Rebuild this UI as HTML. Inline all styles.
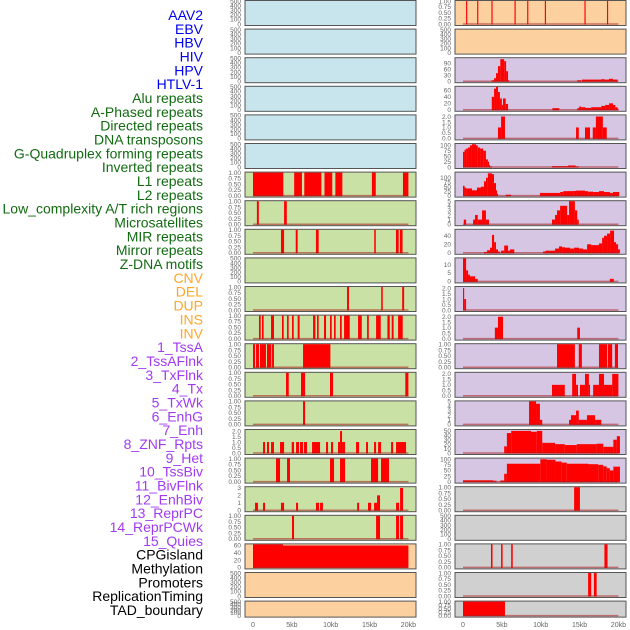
<!DOCTYPE html>
<html><head><meta charset="utf-8">
<style>
body{margin:0;background:#fff;width:630px;height:630px;overflow:hidden;font-family:"Liberation Sans",sans-serif}
svg{display:block}
</style></head>
<body>
<svg id="chart" width="630" height="630" xmlns="http://www.w3.org/2000/svg"></svg>
<script>
const labels=["AAV2","EBV","HBV","HIV","HPV","HTLV-1","Alu repeats","A-Phased repeats","Directed repeats","DNA transposons","G-Quadruplex forming repeats","Inverted repeats","L1 repeats","L2 repeats","Low_complexity A/T rich regions","Microsatellites","MIR repeats","Mirror repeats","Z-DNA motifs","CNV","DEL","DUP","INS","INV","1_TssA","2_TssAFlnk","3_TxFlnk","4_Tx","5_TxWk","6_EnhG","7_Enh","8_ZNF_Rpts","9_Het","10_TssBiv","11_BivFlnk","12_EnhBiv","13_ReprPC","14_ReprPCWk","15_Quies","CPGisland","Methylation","Promoters","ReplicationTiming","TAD_boundary"];
const labelGroups=["b","b","b","b","b","b","g","g","g","g","g","g","g","g","g","g","g","g","g","o","o","o","o","o","p","p","p","p","p","p","p","p","p","p","p","p","p","p","p","k","k","k","k","k"];
const xTicks=[0,5,10,15,20];
const xTickLabels=["0","5kb","10kb","15kb","20kb"];
const T500=[0,100,200,300,400,500];
const T1=[0,0.25,0.5,0.75,1];
const T2=[0,0.5,1,1.5,2];
const leftBg=["b","b","b","b","b","b","g","g","g","g","g","g","g","g","g","g","g","g","g","o","o","o"];
const rightBg=["o","o","p","p","p","p","p","p","p","p","p","p","p","p","p","p","p","r","r","r","r","r"];
const leftMax=[500,500,500,500,500,500,1,1,1,500,1,1,1,1,1,2.1,1,3.1,1,62,500,500];
const rightMax=[1,500,115,71,2.1,106,129,5,54,13.6,2.1,2.1,1,2.1,5,52,103,1,500,1,1,1];
const leftTicks=[T500,T500,T500,T500,T500,T500,T1,T1,T1,T500,T1,T1,T1,T1,T1,T2,T1,[0,1,2,3],T1,[0,20,40,60],T500,T500];
const rightTicks=[T1,T500,[0,30,60,90],[0,20,40,60],T2,[0,25,50,75,100],[0,25,50,75,100],[0,1,2,3,4,5],[0,20,40],[0,5,10],T2,T2,T1,T2,[0,1,2,3,4,5],[0,10,20,30,40,50],[0,25,50,75,100],T1,T500,T1,T1,T1];
const leftSegs=[[],[],[],[],[],[],
[[0,3.9,1],[5.3,6.3,1],[6.6,8.8,1],[9.2,10.2,1],[10.6,11.5,1],[15.3,15.8,1],[19.3,20,1]],
[[0.5,0.75,1],[4,4.35,1]],
[[3.6,4,1],[5.5,5.75,1],[8.1,8.45,1],[15.6,15.8,1],[18.4,18.75,1],[18.9,19.25,1]],
[],
[[12.1,12.35,1],[16.5,16.7,1],[19.2,19.45,1]],
[[0.77,0.99,1],[1.16,1.37,1],[2.32,2.7,1],[3.73,3.95,1],[4.38,4.59,1],[5.02,5.24,1],[5.75,6,1],[7.73,8.03,1],[8.24,8.45,1],[9.14,9.4,1],[9.91,10.13,1],[10.43,10.64,1],[11.2,11.42,1],[11.72,12.45,1],[13.52,14,1],[14.68,14.9,1],[15.84,16.44,1],[17.3,17.6,1],[17.85,18.1,1],[18.67,19.27,1]],
[[0,0.26,1],[0.39,0.77,1],[0.9,1.67,1],[1.8,2.36,1],[2.45,2.7,1],[6.44,9.96,1]],
[[4.25,4.6,1],[6.18,6.7,1],[9.91,10.3,1],[19.6,20,1]],
[[6.44,6.7,1]],
[[1.29,1.55,1],[1.8,2.06,1],[2.32,2.7,1],[3.48,4,1],[4.98,5.28,1],[5.54,5.92,1],[6.05,6.44,1],[6.57,6.95,1],[7.6,8.63,1],[9.4,9.66,1],[10.04,10.3,1],[10.94,11.2,1],[11.2,11.46,2],[11.46,11.85,1],[13.26,13.65,1],[14.55,14.8,1],[15.58,15.84,1],[16.1,16.48,1],[17.77,18.03,1],[18.41,19.7,1]],
[[2.96,3.48,1],[4.38,4.76,1],[9.91,10.43,1],[11.2,11.85,1],[15.19,16.1,1],[16.48,17.5,1]],
[[0.26,0.64,1],[1.29,1.55,1],[3.6,4,1],[5.54,5.8,1],[8.1,8.5,1],[8.63,9,1],[13.4,13.65,1],[14.8,15.2,1],[15.58,15.97,1],[15.97,16.35,2],[18.41,18.8,1],[18.93,19.31,3]],
[[5.02,5.28,1],[15.84,16.35,1],[18.41,18.8,1],[18.93,19.31,1]],
[[0,3.86,62],[3.86,20,59]],
[],[]];
const rightSegs=[
[[0.4,0.55,1],[1.82,1.97,1],[3.66,3.81,1],[6.63,6.78,1],[8.26,8.41,1],[10.53,10.68,1],[15.63,15.78,1],[18.53,18.68,1]],
[],
[[3.7,4,5],[4,4.25,15],[4.25,4.5,40],[4.5,4.8,75],[4.8,5.3,110],[5.3,5.55,100],[5.55,5.8,50],[5.8,5.9,5],[14.7,15.2,5],[15.3,17.8,8],[17.8,18.2,10],[18.2,18.8,8],[18.8,19.3,12],[19.3,19.9,8]],
[[3.7,4,40],[4,4.25,65],[4.25,4.5,71],[4.5,4.75,55],[4.75,5,35],[5,5.15,15],[5.15,5.5,35],[5.5,5.8,18],[11.5,12.4,5],[14.7,14.95,5],[14.95,15.2,10],[15.2,15.7,8],[15.7,16.5,6],[16.5,17.8,8],[17.8,18.3,12],[18.3,18.8,15],[18.8,19.3,20],[19.3,19.6,15],[19.6,19.9,8],[19.9,20,3]],
[[4.5,4.9,1],[4.9,5.4,2],[14.55,14.9,1],[15.7,16.35,1],[16.7,17.1,1],[17.1,18,2],[18,18.5,1]],
[[0,0.2,70],[0.2,0.4,80],[0.4,0.65,85],[0.65,0.9,90],[0.9,1.15,100],[1.15,1.67,105],[1.67,1.9,100],[1.9,2.2,90],[2.2,2.6,85],[2.6,2.95,75],[2.95,3.2,35],[3.2,3.35,25],[3.35,3.48,10],[3.48,3.73,3],[11.45,13.5,4],[13.5,14.5,7],[14.5,14.9,3]],
[[0,0.2,55],[0.2,0.4,45],[0.4,1.16,40],[1.16,1.55,30],[1.55,1.8,30],[1.8,2.32,45],[2.32,2.7,50],[2.7,2.96,80],[2.96,3.2,100],[3.2,3.73,125],[3.73,3.99,120],[3.99,4.25,70],[4.25,4.38,30],[4.38,4.5,10],[5.5,6.2,5],[9.9,12.5,15],[12.5,12.9,20],[12.9,14.2,25],[14.2,14.55,26],[14.55,15.7,28],[15.7,16.1,25],[16.1,16.75,22],[16.75,17.5,20],[17.5,18.15,25],[18.15,18.93,20],[18.93,19.3,15],[19.3,20.1,20]],
[[0.1,0.4,1],[1.3,1.55,1],[1.55,1.9,2],[1.9,2.45,1],[2.45,2.95,3],[2.95,3.35,1],[11.45,11.85,1],[11.85,12.1,2],[12.1,12.5,3],[12.5,13.4,4],[13.4,13.65,2],[13.65,14.4,5],[14.4,14.7,3],[14.7,14.9,1]],
[[2.7,3.1,2],[3.1,3.48,6],[3.48,3.73,12],[3.73,4,42],[4,4.25,25],[4.25,4.5,8],[4.5,4.76,3],[4.9,5.3,5],[5.3,5.8,17],[5.8,6.05,5],[6.05,6.6,8],[10.3,10.6,3],[10.6,11.3,5],[11.3,11.85,5],[11.85,12.36,10],[12.36,12.75,15],[12.75,13.13,13],[13.13,13.78,12],[13.78,14.3,10],[14.3,14.94,12],[14.94,15.45,10],[15.45,15.97,8],[15.97,16.48,20],[16.48,17.5,18],[17.5,17.9,22],[17.9,18.15,35],[18.15,18.54,40],[18.54,18.93,45],[18.93,19.44,52],[19.44,19.7,25],[19.7,19.96,20],[19.96,20.2,8]],
[[0,0.4,13.6],[0.4,0.65,6.5],[0.65,0.9,4],[0.9,1.55,3],[1.55,1.9,1.5],[18.9,19.4,1.5]],
[[0,0.15,2],[0.15,0.4,1]],
[[4.1,4.5,1],[4.5,5.15,2],[14.7,15.05,1]],
[[12.1,14.4,1],[14.9,15.3,1],[17.5,18.55,1],[18.65,19.2,1],[19.55,19.95,1]],
[[11.45,13.1,1],[14.05,14.55,2],[14.55,14.8,1],[15.05,15.7,1],[15.7,16.2,2],[16.2,16.35,1],[16.75,17.5,1],[17.5,18.15,2],[18.15,19.2,1],[19.2,20,2]],
[[8.5,9.4,5],[9.4,9.9,4.5],[9.9,10.2,1],[13.65,13.9,1],[13.9,14.55,2],[14.55,14.9,3],[14.9,15.95,1],[15.95,17,2],[17,17.8,1]],
[[5.3,5.65,15],[5.65,6.2,45],[6.2,8.75,50],[8.75,9.5,48],[9.5,10.2,50],[10.2,11.85,23],[11.85,13.1,20],[13.1,14.65,18],[14.65,17.2,20],[17.2,18.05,21],[18.05,19.35,14],[19.35,19.8,30],[19.8,20.2,38]],
[[0,3.9,6],[3.9,4.3,4],[4.8,5.3,5],[5.3,5.65,35],[5.65,9.95,80],[9.95,10.8,100],[10.8,11.9,98],[11.9,12.7,90],[12.7,13.35,85],[13.35,16.15,80],[16.15,17.4,78],[17.4,18.05,75],[18.05,18.5,68],[18.5,18.9,60],[18.9,19.35,50],[19.35,20.2,67]],
[[14.3,15.05,1]],
[],
[[3.6,3.8,1],[4.9,5.1,1],[6.2,6.4,1],[18.2,18.6,1]],
[[16.1,16.5,1],[16.85,17.2,1]],
[[0,5.4,1]]];

const NS="http://www.w3.org/2000/svg";
const svg=document.getElementById("chart");
const bgCol={b:"#c8e4ec",g:"#c9e1a4",o:"#fdd09f",p:"#d6c6e3",r:"#d0d0d0"};
const txtCol={b:"#0000ee",g:"#126b12",o:"#ffa62a",p:"#a23bf0",k:"#000"};
const SCALE=7.77;
function mk(tag,attrs){const e=document.createElementNS(NS,tag);for(const k in attrs)e.setAttribute(k,attrs[k]);svg.appendChild(e);return e;}
function rowTop(i){return 0.5+i*28.6;}
function rowH(i){return i===21?16:25;}

const step=(610-15)/(labels.length-1);
labels.forEach((t,i)=>{
  const e=mk("text",{x:203,y:15+i*step+5,"text-anchor":"end","font-size":"14",fill:txtCol[labelGroups[i]]});
  e.textContent=t;
  
  
});

function drawCol(px,x0,bgs,maxs,ticks,segs){
  for(let i=0;i<bgs.length;i++){
    const top=rowTop(i),h=rowH(i),bot=top+h-1.5;
    const r=mk("rect",{x:px,y:top,width:171,height:h,fill:bgCol[bgs[i]],stroke:"#555","stroke-width":1});
    
    
    const yS=v=>bot-(v/maxs[i])*(bot-top-0.5);
    const xS=k=>Math.min(px+171,x0+k*SCALE);
    segs[i].forEach(s=>{
      const y=yS(s[2]);
      const b=mk("rect",{x:xS(s[0]),y:y,width:Math.max(1,xS(s[1])-xS(s[0])),height:bot-y+0.5,fill:"#ff0000"});
      
      
    });
    if(segs[i].length){
      const base=mk("line",{x1:xS(0),x2:xS(20),y1:bot,y2:bot,stroke:"rgba(170,30,30,0.55)","stroke-width":1.5});
      
      
    }
    ticks[i].forEach(v=>{
      if(v>maxs[i]*1.02)return;
      const tt=mk("text",{x:px-4,y:yS(v)+2.3,"text-anchor":"end","font-size":"6.5",fill:"#666"});
      tt.textContent=(ticks[i]===T1?v.toFixed(2):(ticks[i]===T2?v.toFixed(1):String(v)));
      
      
    });
  }
  xTicks.forEach((k,j)=>{
    const tt=mk("text",{x:x0+k*SCALE,y:627,"text-anchor":"middle","font-size":"7",fill:"#666"});
    tt.textContent=xTickLabels[j];
    
    
  });
}
drawCol(245,253,leftBg,leftMax,leftTicks,leftSegs);
drawCol(455,463,rightBg,rightMax,rightTicks,rightSegs);
</script>
</body></html>
